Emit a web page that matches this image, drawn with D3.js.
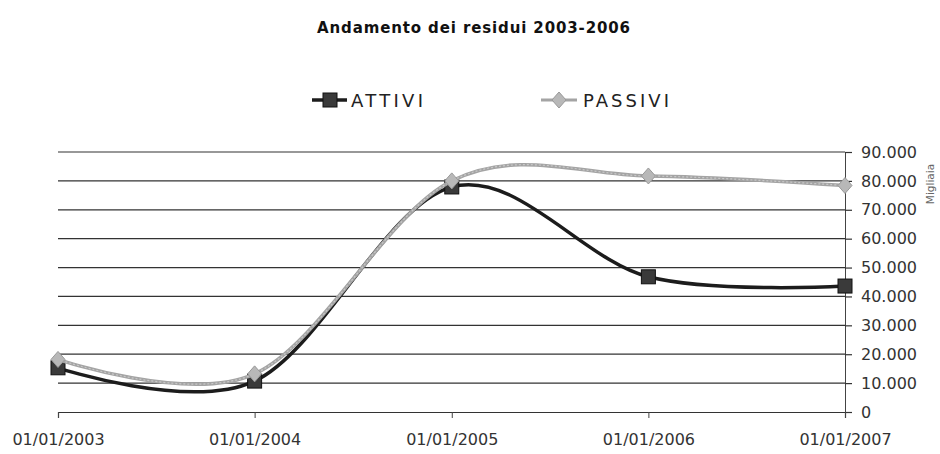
<!DOCTYPE html>
<html><head><meta charset="utf-8">
<script src="https://cdn.jsdelivr.net/npm/d3@7"></script>
<style>body{margin:0;background:#fff}svg{display:block}</style>
</head><body>
<svg id="c" width="940" height="454"></svg>
<script>
const dates = ["2003-01-01","2004-01-01","2005-01-01","2006-01-01","2007-01-01"];
const attivi = [15300, 10700, 77900, 46800, 43600];
const passivi = [18200, 13200, 80000, 81700, 78400];
const yTicks = [0,10000,20000,30000,40000,50000,60000,70000,80000,90000];
const title = "Andamento dei residui 2003-2006";
const seriesNames = ["ATTIVI","PASSIVI"];
const yUnit = "Migliaia";

const parse = d3.timeParse("%Y-%m-%d");
const fmtDate = d3.timeFormat("%d/%m/%Y");
const loc = d3.formatLocale({decimal:",",thousands:".",grouping:[3],currency:["€",""]});
const fmtY = loc.format(",d");
const font = "'DejaVu Sans', sans-serif";

const svg = d3.select("#c");
const L = 58, R = 845, T = 152, B = 412;
const x = d3.scaleTime().domain([parse(dates[0]), parse(dates[dates.length-1])]).range([L, R]);
const y = d3.scaleLinear().domain([0, 90000]).range([B, T]);

// title
svg.append("text").attr("x", 317).attr("y", 33)
  .attr("font-family", font).attr("font-weight","bold").attr("font-size", 15)
  .attr("textLength", 313).attr("lengthAdjust","spacing")
  .attr("fill","#111").text(title);

// gridlines
svg.append("g").selectAll("line").data(yTicks.slice(1)).join("line")
  .attr("x1", L).attr("x2", R).attr("y1", d=>y(d)).attr("y2", d=>y(d))
  .attr("stroke","#333").attr("stroke-width",1.2);

// right axis
const ay = svg.append("g").attr("transform",`translate(${R},0)`)
  .call(d3.axisRight(y).tickValues(yTicks).tickFormat(fmtY).tickSize(7).tickPadding(9));
ay.select(".domain").attr("stroke","#444").attr("stroke-width",1);
ay.selectAll(".tick line").attr("stroke","#333").attr("stroke-width",1.2);
ay.selectAll("text").attr("font-family", font).attr("font-size", 16).attr("fill","#333");

// bottom axis
const ax = svg.append("g").attr("transform",`translate(0,${B})`)
  .call(d3.axisBottom(x).tickValues(dates.map(parse)).tickFormat(fmtDate).tickSize(6).tickPadding(16));
ax.select(".domain").attr("stroke","#333").attr("stroke-width",1.2);
ax.selectAll(".tick line").attr("stroke","#444");
ax.selectAll("text").attr("font-family", font).attr("font-size", 16).attr("fill","#333");

// unit label
svg.append("text").attr("transform","translate(934,184) rotate(-90)").attr("text-anchor","middle")
  .attr("font-family", font).attr("font-size", 10.5).attr("fill","#666").text(yUnit);

const line = d3.line().x(d=>x(d.date)).y(d=>y(d.v)).curve(d3.curveCardinal.tension(0));
const dA = dates.map((d,i)=>({date:parse(d), v:attivi[i]}));
const dP = dates.map((d,i)=>({date:parse(d), v:passivi[i]}));

// ATTIVI
svg.append("path").datum(dA).attr("d", line).attr("fill","none")
  .attr("stroke","#1c1c1c").attr("stroke-width",3.5);
svg.append("g").selectAll("rect").data(dA).join("rect")
  .attr("x", d=>x(d.date)-7).attr("y", d=>y(d.v)-7).attr("width",14).attr("height",14)
  .attr("fill","#3a3a3a").attr("stroke","#111").attr("stroke-width",1);

// PASSIVI
svg.append("path").datum(dP).attr("d", line).attr("fill","none")
  .attr("stroke","#a4a4a4").attr("stroke-width",3.5);
svg.append("path").datum(dP).attr("d", line).attr("fill","none")
  .attr("stroke","#c8c8c8").attr("stroke-width",1.2).attr("stroke-dasharray","2,2");
const diamond = "M0,-8L7,0L0,8L-7,0Z";
svg.append("g").selectAll("path").data(dP).join("path")
  .attr("transform", d=>`translate(${x(d.date)},${y(d.v)})`).attr("d", diamond)
  .attr("fill","#b8b8b8").attr("stroke","#999").attr("stroke-width",1);

// legend
const lg = svg.append("g");
lg.append("line").attr("x1",312).attr("x2",347).attr("y1",100).attr("y2",100)
  .attr("stroke","#1c1c1c").attr("stroke-width",3.5);
lg.append("rect").attr("x",323).attr("y",93).attr("width",14).attr("height",14)
  .attr("fill","#3a3a3a").attr("stroke","#111");
lg.append("text").attr("x",351).attr("y",107).attr("font-family",font).attr("font-size",18)
  .attr("textLength",72).attr("lengthAdjust","spacing")
  .attr("fill","#222").text(seriesNames[0]);
lg.append("line").attr("x1",541).attr("x2",577).attr("y1",100).attr("y2",100)
  .attr("stroke","#a4a4a4").attr("stroke-width",3);
lg.append("path").attr("transform","translate(559,100)").attr("d",diamond)
  .attr("fill","#b8b8b8").attr("stroke","#999");
lg.append("text").attr("x",583).attr("y",107).attr("font-family",font).attr("font-size",18)
  .attr("textLength",86).attr("lengthAdjust","spacing")
  .attr("fill","#222").text(seriesNames[1]);
</script>
</body></html>
